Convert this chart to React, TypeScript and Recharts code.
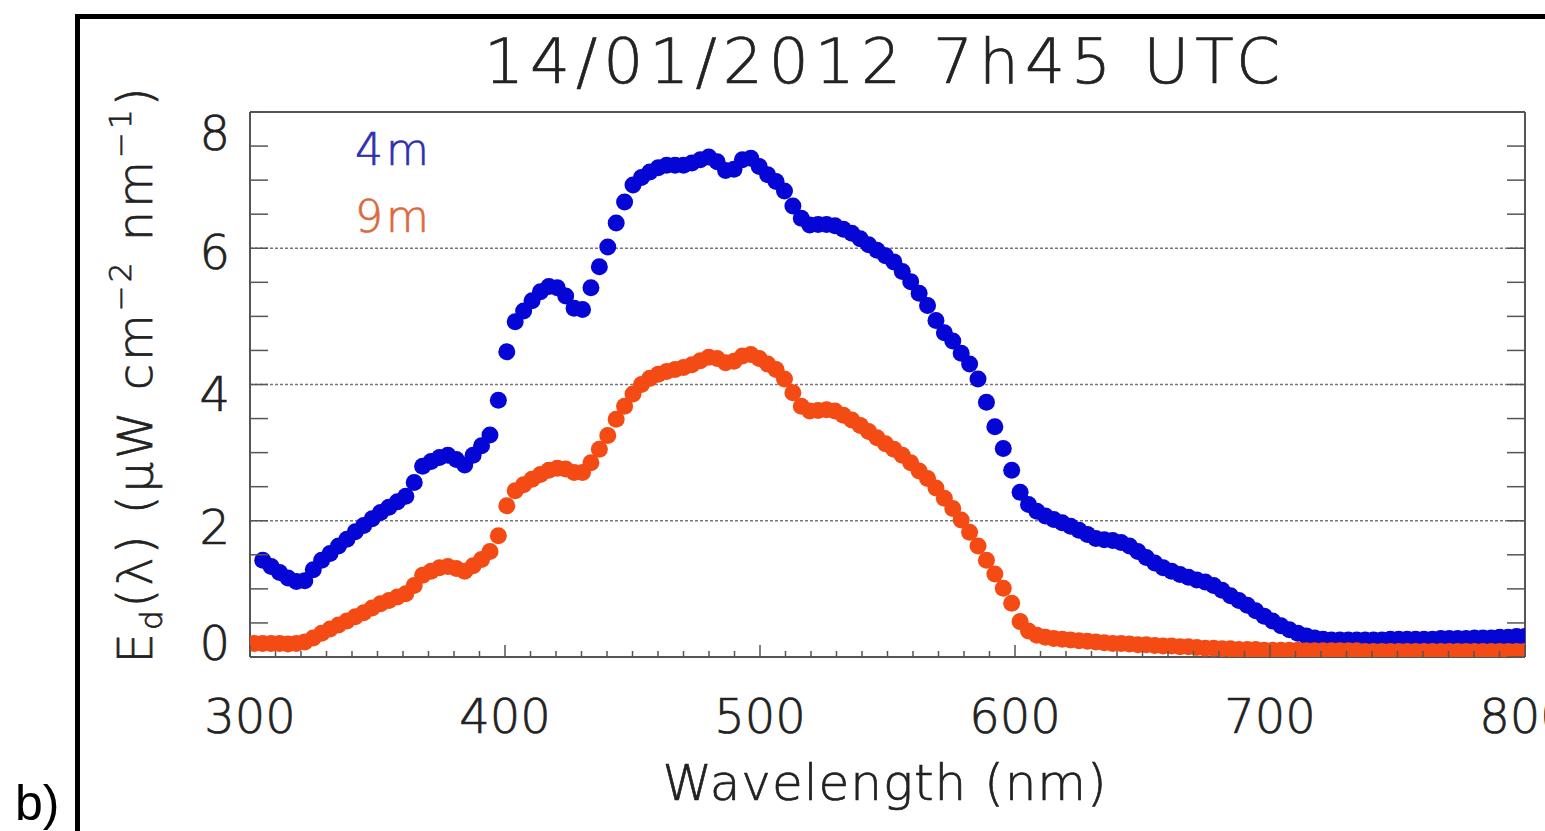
import React from 'react';
import { ScatterChart, Scatter, XAxis, YAxis, ReferenceLine } from 'recharts';

// wavelength grid (nm)
const wavelength = [
  301.7, 305, 308.3, 311.6, 314.9, 318.2, 321.5, 324.8, 328.1, 331.4,
  334.7, 338, 341.3, 344.6, 347.9, 351.2, 354.5, 357.8, 361.1, 364.4,
  367.7, 371, 374.3, 377.6, 380.9, 384.2, 387.5, 390.8, 394.1, 397.4,
  400.7, 404, 407.3, 410.6, 413.9, 417.2, 420.5, 423.8, 427.1, 430.4,
  433.7, 437, 440.3, 443.6, 446.9, 450.2, 453.5, 456.8, 460.1, 463.4,
  466.7, 470, 473.3, 476.6, 479.9, 483.2, 486.5, 489.8, 493.1, 496.4,
  499.7, 503, 506.3, 509.6, 512.9, 516.2, 519.5, 522.8, 526.1, 529.4,
  532.7, 536, 539.3, 542.6, 545.9, 549.2, 552.5, 555.8, 559.1, 562.4,
  565.7, 569, 572.3, 575.6, 578.9, 582.2, 585.5, 588.8, 592.1, 595.4,
  598.7, 602, 605.3, 608.6, 611.9, 615.2, 618.5, 621.8, 625.1, 628.4,
  631.7, 635, 638.3, 641.6, 644.9, 648.2, 651.5, 654.8, 658.1, 661.4,
  664.7, 668, 671.3, 674.6, 677.9, 681.2, 684.5, 687.8, 691.1, 694.4,
  697.7, 701, 704.3, 707.6, 710.9, 714.2, 717.5, 720.8, 724.1, 727.4,
  730.7, 734, 737.3, 740.6, 743.9, 747.2, 750.5, 753.8, 757.1, 760.4,
  763.7, 767, 770.3, 773.6, 776.9, 780.2, 783.5, 786.8, 790.1, 793.4,
  796.7, 800,
];

// Ed at 4 m
const ed4m = [
  null, 1.42, 1.33, 1.24, 1.16, 1.11, 1.12, 1.28, 1.42, 1.52,
  1.63, 1.73, 1.84, 1.93, 2.03, 2.12, 2.2, 2.28, 2.36, 2.56,
  2.8, 2.87, 2.93, 2.96, 2.9, 2.82, 2.96, 3.1, 3.26, 3.77,
  4.48, 4.92, 5.08, 5.23, 5.36, 5.44, 5.42, 5.3, 5.12, 5.1,
  5.42, 5.73, 6.02, 6.37, 6.68, 6.93, 7.04, 7.12, 7.18, 7.22,
  7.22, 7.22, 7.25, 7.3, 7.34, 7.27, 7.14, 7.16, 7.3, 7.32,
  7.2, 7.08, 6.98, 6.84, 6.62, 6.44, 6.34, 6.35, 6.35, 6.33,
  6.28, 6.22, 6.14, 6.05, 5.97, 5.89, 5.8, 5.66, 5.51, 5.34,
  5.16, 4.94, 4.76, 4.64, 4.46, 4.3, 4.08, 3.74, 3.38, 3.06,
  2.74, 2.42, 2.24, 2.14, 2.07, 2.02, 1.97, 1.92, 1.86, 1.8,
  1.74, 1.72, 1.71, 1.68, 1.63, 1.55, 1.46, 1.38, 1.31, 1.26,
  1.21, 1.17, 1.13, 1.1, 1.05, 0.98, 0.9, 0.83, 0.76, 0.68,
  0.6, 0.53, 0.46, 0.4, 0.35, 0.31, 0.28, 0.26, 0.25, 0.25,
  0.25, 0.25, 0.25, 0.25, 0.25, 0.26, 0.26, 0.26, 0.26, 0.26,
  0.26, 0.27, 0.27, 0.27, 0.27, 0.28, 0.28, 0.28, 0.29, 0.29,
  0.3, 0.3,
];

// Ed at 9 m
const ed9m = [
  0.2, 0.2, 0.2, 0.2, 0.19, 0.2, 0.22, 0.28, 0.35, 0.41,
  0.47, 0.53, 0.59, 0.65, 0.72, 0.78, 0.83, 0.88, 0.93, 1.05,
  1.2, 1.26, 1.31, 1.33, 1.3, 1.26, 1.34, 1.43, 1.55, 1.78,
  2.22, 2.44, 2.53, 2.61, 2.68, 2.74, 2.77, 2.76, 2.71, 2.71,
  2.85, 3.05, 3.25, 3.49, 3.68, 3.86, 4.0, 4.09, 4.15, 4.19,
  4.22, 4.25, 4.29, 4.35, 4.4, 4.38, 4.32, 4.34, 4.42, 4.44,
  4.38, 4.3, 4.22, 4.08, 3.88, 3.68, 3.61, 3.62, 3.63, 3.61,
  3.55, 3.48, 3.4, 3.31, 3.22, 3.13, 3.05, 2.96, 2.85, 2.73,
  2.62, 2.48, 2.33, 2.18, 2.01, 1.83, 1.63, 1.42, 1.22, 1.01,
  0.79, 0.52, 0.38, 0.32, 0.29, 0.27, 0.26, 0.25, 0.24, 0.23,
  0.22, 0.21, 0.2, 0.2, 0.19, 0.18, 0.18, 0.17, 0.16, 0.16,
  0.15, 0.15, 0.14, 0.13, 0.13, 0.12, 0.12, 0.11, 0.11, 0.11,
  0.1, 0.1, 0.1, 0.1, 0.1, 0.09, 0.09, 0.09, 0.09, 0.09,
  0.09, 0.09, 0.08, 0.08, 0.08, 0.08, 0.08, 0.08, 0.08, 0.08,
  0.08, 0.08, 0.08, 0.08, 0.08, 0.08, 0.08, 0.08, 0.08, 0.08,
  0.08, 0.08,
];

const seriesNames = ['4m', '9m'];
const xLabelTicks = [300, 400, 500, 600, 700, 800];
const yLabelTicks = [0, 2, 4, 6, 8];
const gridValues = [2, 4, 6];
const title = '14/01/2012 7h45 UTC';

const xMinorTicks = Array.from({ length: 51 }, (_, i) => 300 + i * 10);
const yMinorTicks = Array.from({ length: 17 }, (_, i) => i * 0.5);

const BLUE = '#0505d5';
const ORANGE = '#f44b14';
const AXIS = '#555';
const TXT = '#222';
const FONT = '"DejaVu Sans", sans-serif';
const FW = 200;
const R = 8.5;

// text is drawn light, with a thin outline to bring it up to the reference's weight
const thin = { fontFamily: FONT, fontWeight: FW, fill: TXT, stroke: TXT, strokeWidth: 0.7 };

// the IDL labels sit a bit off their ticks
const yLabelDy: Record<number, number> = { 0: 3, 2: 23, 4: 26, 6: 21, 8: 38 };

const toPoints = (vals: (number | null)[]) =>
  wavelength.map((w, i) => ({ x: w, y: vals[i] })).filter((p) => p.y != null);

const BottomTick = (props: any) => {
  const { x, y, payload } = props;
  const major = xLabelTicks.includes(payload.value);
  return (
    <g>
      <line x1={x} x2={x} y1={y} y2={y - (major ? 12 : 6)} stroke={AXIS} strokeWidth={1.5} />
      {major && (
        <text x={x} y={y + 76} textAnchor="middle" fontSize={48} {...thin}>
          {payload.value}
        </text>
      )}
    </g>
  );
};

const TopTick = (props: any) => {
  const { x, y, payload } = props;
  const major = xLabelTicks.includes(payload.value);
  return <line x1={x} x2={x} y1={y} y2={y + (major ? 12 : 6)} stroke={AXIS} strokeWidth={1.5} />;
};

const LeftTick = (props: any) => {
  const { x, y, payload } = props;
  const v = payload.value;
  return (
    <g>
      <line x1={x} x2={x + 18} y1={y} y2={y} stroke={AXIS} strokeWidth={1.5} />
      {yLabelTicks.includes(v) && (
        <text x={x - 20} y={y + yLabelDy[v]} textAnchor="end" fontSize={48} {...thin}>
          {v}
        </text>
      )}
    </g>
  );
};

const RightTick = (props: any) => {
  const { x, y } = props;
  return <line x1={x} x2={x - 18} y1={y} y2={y} stroke={AXIS} strokeWidth={1.5} />;
};

const dot = (color: string) => (p: any) => <circle cx={p.cx} cy={p.cy} r={R} fill={color} />;

export default function App() {
  return (
    <div style={{ position: 'absolute', left: 0, top: 0, width: 1545, height: 831, overflow: 'hidden', background: '#fff' }}>
      <div style={{ position: 'absolute', left: 0, top: 0 }}>
        <ScatterChart width={1545} height={831} margin={{ top: 102, right: 10, bottom: 114, left: 150 }}>
          <XAxis
            xAxisId="b"
            dataKey="x"
            type="number"
            domain={[300, 800]}
            ticks={xMinorTicks}
            interval={0}
            allowDataOverflow
            height={60}
            tickSize={0}
            tickMargin={0}
            tickLine={false}
            axisLine={{ stroke: AXIS, strokeWidth: 2 }}
            tick={(p: any) => <BottomTick {...p} />}
          />
          <XAxis
            xAxisId="t"
            orientation="top"
            type="number"
            domain={[300, 800]}
            ticks={xMinorTicks}
            interval={0}
            allowDataOverflow
            height={10}
            tickSize={0}
            tickMargin={0}
            tickLine={false}
            axisLine={{ stroke: AXIS, strokeWidth: 2 }}
            tick={(p: any) => <TopTick {...p} />}
          />
          <YAxis
            yAxisId="l"
            dataKey="y"
            type="number"
            domain={[0, 8]}
            ticks={yMinorTicks}
            interval={0}
            allowDataOverflow
            width={100}
            tickSize={0}
            tickMargin={0}
            tickLine={false}
            axisLine={{ stroke: AXIS, strokeWidth: 2 }}
            tick={(p: any) => <LeftTick {...p} />}
          />
          <YAxis
            yAxisId="r"
            orientation="right"
            type="number"
            domain={[0, 8]}
            ticks={yMinorTicks}
            interval={0}
            allowDataOverflow
            width={10}
            tickSize={0}
            tickMargin={0}
            tickLine={false}
            axisLine={{ stroke: AXIS, strokeWidth: 2 }}
            tick={(p: any) => <RightTick {...p} />}
          />
          {gridValues.map((g) => (
            <ReferenceLine key={g} xAxisId="b" yAxisId="l" y={g} stroke="#777" strokeWidth={1.3} strokeDasharray="3 2" />
          ))}
          <Scatter name={seriesNames[0]} data={toPoints(ed4m)} xAxisId="b" yAxisId="l" fill={BLUE} shape={dot(BLUE)} isAnimationActive={false} />
          <Scatter name={seriesNames[1]} data={toPoints(ed9m)} xAxisId="b" yAxisId="l" fill={ORANGE} shape={dot(ORANGE)} isAnimationActive={false} />
        </ScatterChart>
      </div>

      <svg width={1545} height={831} style={{ position: 'absolute', left: 0, top: 0, pointerEvents: 'none' }}>
        <text x={885} y={83} textAnchor="middle" fontSize={63} letterSpacing={6} {...thin}>
          {title}
        </text>
        <text x={355} y={165} fontSize={44} letterSpacing={3} {...thin} fill="#2f2fb0" stroke="#2f2fb0">
          {seriesNames[0]}
        </text>
        <text x={355} y={232} fontSize={44} letterSpacing={3} {...thin} fill="#dc6a3c" stroke="#dc6a3c">
          {seriesNames[1]}
        </text>
        <text x={885} y={800} textAnchor="middle" fontSize={50} letterSpacing={1} {...thin}>
          Wavelength (nm)
        </text>
        <text transform="translate(152,374) rotate(-90)" textAnchor="middle" fontSize={48} letterSpacing={3} {...thin}>
          E<tspan fontSize={31} dy={10}>d</tspan>
          <tspan dy={-10}>(λ) (μW cm</tspan>
          <tspan fontSize={31} dy={-21}>−2</tspan>
          <tspan dy={21}> nm</tspan>
          <tspan fontSize={31} dy={-21}>−1</tspan>
          <tspan dy={21}>)</tspan>
        </text>
        <text x={15} y={820} fontSize={50} fontFamily='"Liberation Sans", Arial, sans-serif' fill="#000">
          b)
        </text>
      </svg>

      <div style={{ position: 'absolute', left: 75, top: 14, width: 1600, height: 900, border: '5px solid #000', boxSizing: 'border-box' }} />
    </div>
  );
}
